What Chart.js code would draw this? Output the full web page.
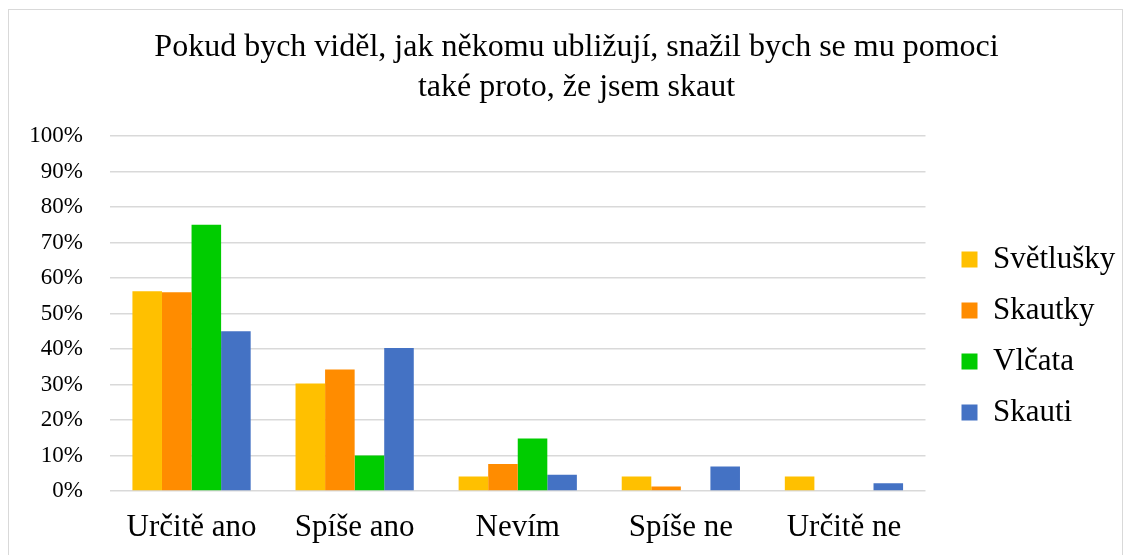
<!DOCTYPE html>
<html>
<head>
<meta charset="utf-8">
<script src="https://cdn.jsdelivr.net/npm/chart.js@4"></script>
<style>
    body { margin: 0; background: #fff; }
    #wrap { position: relative; width: 1132px; height: 555px; overflow: hidden; }
    #frame { position: absolute; left: 8px; top: 9px; width: 1113px; height: 600px; border: 1px solid #d9d9d9; }
    canvas { position: absolute; left: 0; top: 0; }
</style>
</head>
<body>
<div id="wrap">
    <div id="frame"></div>
    <canvas id="chart" width="1132" height="555"></canvas>
</div>
<script>
const titleLines = ["Pokud bych viděl, jak někomu ubližují, snažil bych se mu pomoci", "také proto, že jsem skaut"];
const categories = ["Určitě ano", "Spíše ano", "Nevím", "Spíše ne", "Určitě ne"];
const svetlusky = [56.3, 30.3, 4.1, 4.1, 4.1];
const skautky = [56.0, 34.2, 7.6, 1.3, 0];
const vlcata = [75.0, 10.0, 14.8, 0, 0];
const skauti = [45.0, 40.3, 4.6, 6.9, 2.2];

const serif = "'Liberation Serif', 'Times New Roman', serif";

let chart = new Chart(document.getElementById("chart").getContext("2d"), {
    type: 'bar',
    data: {
        labels: categories,
        datasets: [
            { label: "Světlušky", data: svetlusky, backgroundColor: "#FFC000" },
            { label: "Skautky", data: skautky, backgroundColor: "#FF8C00" },
            { label: "Vlčata", data: vlcata, backgroundColor: "#00CC00" },
            { label: "Skauti", data: skauti, backgroundColor: "#4472C4" }
        ]
    },
    options: {
        responsive: false,
        animation: false,
        datasets: {
            bar: { categoryPercentage: 0.725, barPercentage: 1.0 }
        },
        layout: { padding: { left: 29, right: 8, top: 0, bottom: 0 } },
        plugins: {
            title: {
                display: true,
                text: titleLines,
                color: "#000",
                font: { family: serif, size: 32, weight: 'normal', lineHeight: 1.25 },
                padding: { top: 28, bottom: 28 }
            },
            legend: {
                position: 'right',
                // empty legend title only pushes the items down
                title: { display: true, text: ' ', font: { size: 10, lineHeight: 1 }, padding: { top: 107, bottom: 0 } },
                labels: {
                    color: "#000",
                    boxWidth: 16,
                    boxHeight: 16,
                    padding: 20,
                    font: { family: serif, size: 31 }
                }
            },
            tooltip: { enabled: false }
        },
        scales: {
            x: {
                grid: { display: false, drawTicks: false },
                border: { display: false },
                ticks: { color: "#000", padding: 18, font: { family: serif, size: 31 } },
                afterFit: scale => { scale.height = 64; }
            },
            y: {
                min: 0,
                max: 100,
                grid: { color: "#d9d9d9", lineWidth: 1.5, drawTicks: false },
                border: { display: false },
                ticks: {
                    stepSize: 10,
                    color: "#000",
                    padding: 27,
                    font: { family: serif, size: 23 },
                    callback: v => v + "%"
                },
                afterFit: scale => { scale.width = 81; }
            },
            gap: {
                position: 'right',
                display: true,
                grid: { display: false },
                border: { display: false },
                ticks: { display: false },
                afterFit: scale => { scale.width = 16; }
            }
        }
    }
});
</script>
</body>
</html>
